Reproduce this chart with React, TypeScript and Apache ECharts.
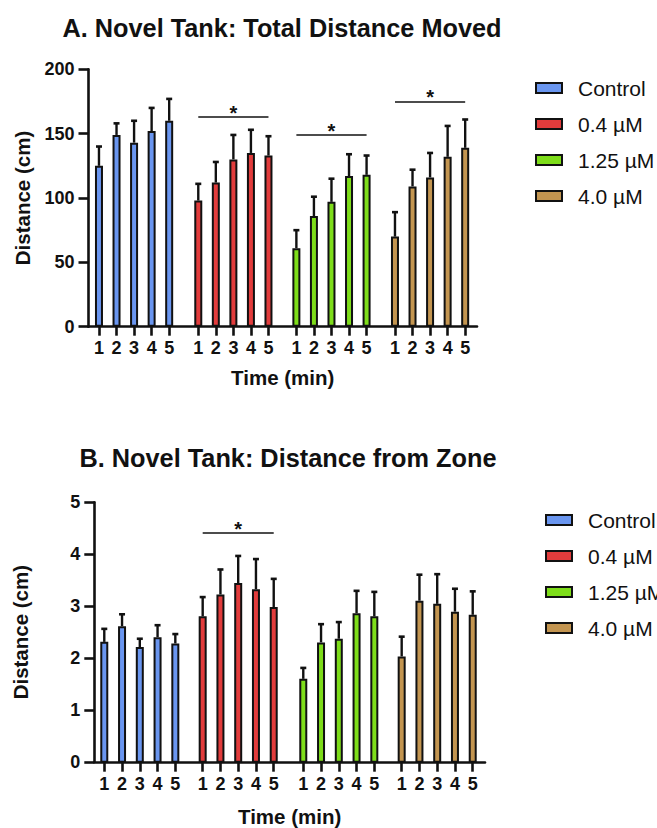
import React, { useEffect, useRef } from "react";
import * as echarts from "echarts";

const times = ["1", "2", "3", "4", "5"];
const groups = ["Control", "0.4 µM", "1.25 µM", "4.0 µM"];
const colors = ["#6A96F0", "#E23C3C", "#7EDD1A", "#C39550"];

// Panel A: Total Distance Moved (cm)
const distControl = [125, 149, 143, 152, 160];
const dist04 = [98, 112, 130, 135, 133];
const dist125 = [61, 86, 97, 117, 118];
const dist40 = [70, 109, 116, 132, 139];
const distErrControl = [15, 9, 17, 18, 17];
const distErr04 = [13, 16, 19, 18, 15];
const distErr125 = [14, 15, 18, 17, 15];
const distErr40 = [19, 13, 19, 24, 22];
const distSig = [null, 163, 149, 175];

// Panel B: Distance from Zone (cm)
const zoneControl = [2.32, 2.62, 2.22, 2.41, 2.29];
const zone04 = [2.81, 3.23, 3.45, 3.33, 2.99];
const zone125 = [1.61, 2.31, 2.38, 2.87, 2.81];
const zone40 = [2.04, 3.11, 3.05, 2.9, 2.84];
const zoneErrControl = [0.25, 0.23, 0.16, 0.23, 0.18];
const zoneErr04 = [0.37, 0.48, 0.52, 0.58, 0.54];
const zoneErr125 = [0.21, 0.35, 0.32, 0.43, 0.47];
const zoneErr40 = [0.38, 0.5, 0.57, 0.44, 0.45];
const zoneSig = [null, 4.42, null, null];

const yTicksA = { min: 0, max: 200, interval: 50 };
const yTicksB = { min: 0, max: 5, interval: 1 };

const FONT = "'Liberation Sans', Arial, sans-serif";
const INK = "#111";

const panels = [
  {
    title: "A. Novel Tank: Total Distance Moved",
    titleX: 282,
    titleTop: 15,
    means: [distControl, dist04, dist125, dist40],
    errs: [distErrControl, distErr04, distErr125, distErr40],
    sig: distSig,
    yt: yTicksA,
    main: { left: 88.5, top: 69.3, width: 388.5, height: 257.4 },
    barLefts: [90.2, 189.5, 287.6, 386.2],
    barWidth: 87.75,
    yNameGap: 56,
    xNameGap: 40,
    legend: { left: 535, top: 77 },
  },
  {
    title: "B. Novel Tank: Distance from Zone",
    titleX: 288,
    titleTop: 445,
    means: [zoneControl, zone04, zone125, zone40],
    errs: [zoneErrControl, zoneErr04, zoneErr125, zoneErr40],
    sig: zoneSig,
    yt: yTicksB,
    main: { left: 94.3, top: 502.3, width: 390.7, height: 260.4 },
    barLefts: [95.4, 193.8, 294.4, 392.8],
    barWidth: 88.8,
    yNameGap: 63,
    xNameGap: 44,
    legend: { left: 545, top: 509 },
  },
];

function buildOption() {
  const grid: any[] = [];
  const xAxis: any[] = [];
  const yAxis: any[] = [];
  const series: any[] = [];
  const title: any[] = [];
  const legend: any[] = [];

  panels.forEach((p) => {
    title.push({
      text: p.title,
      left: p.titleX,
      top: p.titleTop,
      textAlign: "center",
      padding: 0,
      textStyle: { fontFamily: FONT, fontSize: 25.3, fontWeight: "bold", color: INK },
    });
    legend.push({
      data: groups,
      orient: "vertical",
      left: p.legend.left,
      top: p.legend.top,
      padding: 0,
      itemWidth: 26,
      itemHeight: 10,
      itemGap: 14,
      selectedMode: false,
      icon: "rect",
      itemStyle: { borderColor: INK, borderWidth: 2 },
      textStyle: {
        fontFamily: FONT,
        fontSize: 21,
        color: INK,
        lineHeight: 22,
        padding: [0, 0, 0, 11],
      },
    });

    const mainIdx = grid.length;
    grid.push({ ...p.main });
    xAxis.push({
      type: "value",
      gridIndex: mainIdx,
      min: 0,
      max: 1,
      axisLine: { show: true, lineStyle: { color: INK, width: 2.6 } },
      axisTick: { show: false },
      axisLabel: { show: false },
      splitLine: { show: false },
      name: "Time (min)",
      nameLocation: "middle",
      nameGap: p.xNameGap,
      nameTextStyle: { fontFamily: FONT, fontSize: 20.5, fontWeight: "bold", color: INK },
    });
    yAxis.push({
      type: "value",
      gridIndex: mainIdx,
      min: p.yt.min,
      max: p.yt.max,
      interval: p.yt.interval,
      axisLine: { show: true, lineStyle: { color: INK, width: 2.6 } },
      axisTick: { show: true, length: 10, lineStyle: { color: INK, width: 2.6 } },
      axisLabel: { fontFamily: FONT, fontSize: 18, fontWeight: "bold", color: INK, margin: 14 },
      splitLine: { show: false },
      name: "Distance (cm)",
      nameLocation: "middle",
      nameGap: p.yNameGap,
      nameTextStyle: { fontFamily: FONT, fontSize: 20.5, fontWeight: "bold", color: INK },
    });

    groups.forEach((g, gi) => {
      const idx = grid.length;
      grid.push({
        left: p.barLefts[gi],
        top: p.main.top,
        width: p.barWidth,
        height: p.main.height,
      });
      xAxis.push({
        type: "category",
        gridIndex: idx,
        data: times,
        axisLine: { show: false },
        axisTick: { show: true, alignWithLabel: true, length: 9, lineStyle: { color: INK, width: 2.6 } },
        axisLabel: { fontFamily: FONT, fontSize: 18, fontWeight: "bold", color: INK, margin: 12 },
      });
      yAxis.push({
        type: "value",
        gridIndex: idx,
        min: p.yt.min,
        max: p.yt.max,
        interval: p.yt.interval,
        show: false,
      });
      const sigVal = p.sig[gi];
      series.push({
        type: "bar",
        name: g,
        xAxisIndex: idx,
        yAxisIndex: idx,
        data: p.means[gi],
        barWidth: 8,
        z: 2,
        itemStyle: { color: colors[gi], borderColor: INK, borderWidth: 2 },
        markLine:
          sigVal != null
            ? {
                silent: true,
                symbol: "none",
                lineStyle: { color: INK, width: 1.6, type: "solid" },
                label: {
                  show: true,
                  position: "middle",
                  formatter: "*",
                  fontFamily: FONT,
                  fontSize: 20,
                  fontWeight: "bold",
                  color: INK,
                  distance: -6,
                },
                data: [[{ coord: [0, sigVal] }, { coord: [4, sigVal] }]],
              }
            : undefined,
      });
      series.push({
        type: "custom",
        name: g + " err",
        xAxisIndex: idx,
        yAxisIndex: idx,
        z: 3,
        data: p.means[gi].map((m, i) => [i, m, p.errs[gi][i]]),
        encode: { x: 0, y: 1 },
        renderItem: (params: any, api: any) => {
          const x = api.value(0);
          const m = api.value(1);
          const s = api.value(2);
          const p0 = api.coord([x, m]);
          const p1 = api.coord([x, m + s]);
          const cap = 3;
          return {
            type: "group",
            children: [
              {
                type: "line",
                shape: { x1: p0[0], y1: p0[1], x2: p1[0], y2: p1[1] },
                style: { stroke: INK, lineWidth: 2.4 },
              },
              {
                type: "line",
                shape: { x1: p1[0] - cap, y1: p1[1], x2: p1[0] + cap, y2: p1[1] },
                style: { stroke: INK, lineWidth: 2.6 },
              },
            ],
          };
        },
      });
    });
  });

  return {
    animation: false,
    backgroundColor: "#fff",
    title,
    legend,
    grid,
    xAxis,
    yAxis,
    series,
  };
}

export default function App() {
  const ref = useRef<HTMLDivElement>(null);
  useEffect(() => {
    if (!ref.current) return;
    const chart = echarts.init(ref.current, undefined, { renderer: "svg" });
    chart.setOption(buildOption() as any);
    return () => chart.dispose();
  }, []);
  return (
    <div
      ref={ref}
      style={{ position: "fixed", left: 0, top: 0, width: 657, height: 828, background: "#fff" }}
    />
  );
}
